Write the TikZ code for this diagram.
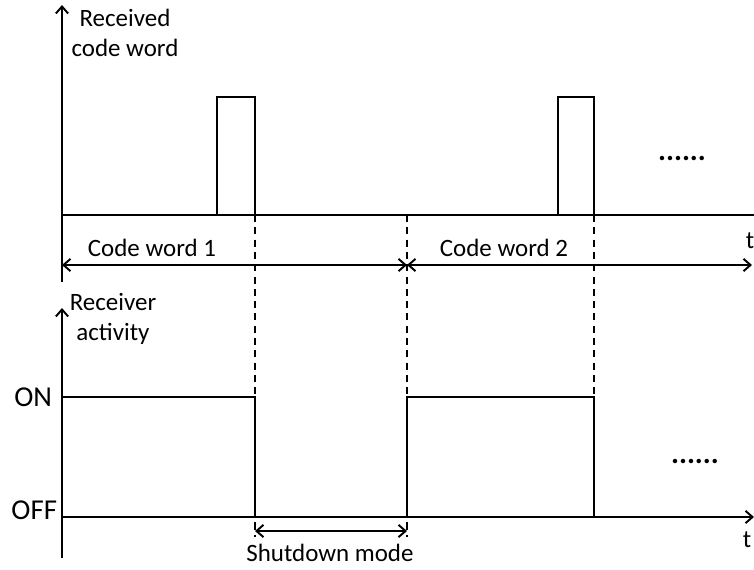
\documentclass[tikz,border=0pt]{standalone}
\usepackage{fontspec}
\setmainfont{Carlito}
\usetikzlibrary{positioning, arrows.meta}

\begin{document}
\begin{tikzpicture}[x=0.02cm, y=-0.02cm, line width=1.1pt,
    font=\fontsize{14.2}{17}\selectfont,
    >={Straight Barb[length=4pt,width=7pt]},
    guide/.style={dash pattern=on 4pt off 3pt, line width=0.9pt},
    lbl/.style={inner sep=0pt},
    level/.style={anchor=east, inner sep=0pt, font=\fontsize{16.4}{20}\selectfont},
    dots/.style={inner sep=0pt, font=\fontsize{17}{20}\selectfont\bfseries}]

  \useasboundingbox (0,0) rectangle (754,569);

  % ==========================================
  % Upper graph: received code word
  % ==========================================
  \begin{scope}
    % Axes
    \coordinate (rxBot) at (62,282);
    \coordinate (rxTop) at (62,5);
    \coordinate (rxO) at (62,215);
    \coordinate (rxEnd) at (754,215);
    \draw[->] (rxBot) -- (rxTop);
    \draw (rxO) -- (rxEnd);
    \node[align=center, lbl] (rxLabel) at (125,33) {Received\\code word};
    \node[lbl] (tTop) at (750,241) {t};

    % Pulses
    \draw (217,215) -- (217,97) -- (255,97) -- (255,215);
    \draw (558,215) -- (558,97) -- (594,97) -- (594,215);
    \node[dots] (dotsTop) at (682,158) {......};

    % Code word spans
    \coordinate (cwA) at (62,265);
    \coordinate (cwB) at (407,265);
    \coordinate (cwC) at (752,265);
    \draw[<->] (cwA) -- (cwB);
    \draw[<->] (cwB) -- (cwC);
    \node[lbl] (cw1) at (152,248) {Code word 1};
    \node[lbl] (cw2) at (504,248) {Code word 2};
  \end{scope}

  % ==========================================
  % Guide lines
  % ==========================================
  \draw[guide] (255,215) -- (255,537);
  \draw[guide] (407,215) -- (407,537);
  \draw[guide] (594,215) -- (594,397);

  % ==========================================
  % Lower graph: receiver activity
  % ==========================================
  \begin{scope}
    % Axes
    \coordinate (actBot) at (62,558);
    \coordinate (actTop) at (62,308);
    \coordinate (actO) at (62,517);
    \coordinate (actEnd) at (754,517);
    \draw[->] (actBot) -- (actTop);
    \draw[->] (actO) -- (actEnd);
    \node[align=center, lbl] (actLabel) at (113,319) {Receiver\\activity};
    \node[lbl] (tBot) at (747,540) {t};

    % Levels
    \node[level] (on) at (53,397) {ON};
    \node[level] (off) at (58,510) {OFF};

    % Activity waveform
    \draw (62,397) -- (255,397) -- (255,517) -- (407,517) -- (407,397) -- (594,397) -- (594,517);
    \node[dots] (dotsBot) at (695,461) {......};

    % Shutdown span
    \coordinate (sdA) at (255,531);
    \coordinate (sdB) at (407,531);
    \draw[<->] (sdA) -- (sdB);
    \node[lbl] (sdLabel) at (330,553) {Shutdown mode};
  \end{scope}

\end{tikzpicture}
\end{document}
